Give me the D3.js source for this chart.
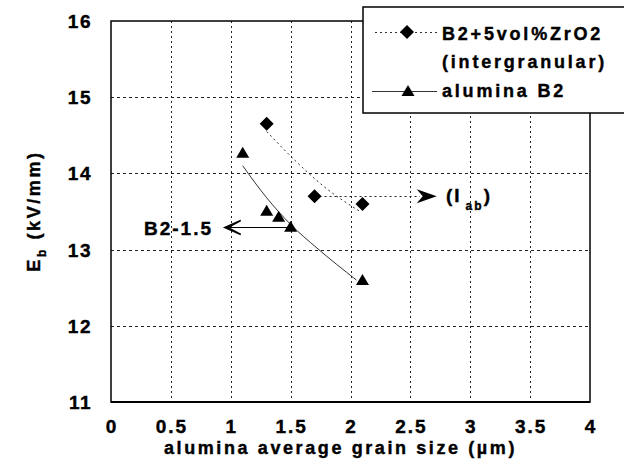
<!DOCTYPE html>
<meta charset="utf-8">
<head>
    <title>Eb vs alumina grain size</title>
    <script type="text/javascript" src="https://d3js.org/d3.v7.min.js"></script>
    <style type="text/css">
        body { margin: 0; background: #fff; }
        text { font-family: "Liberation Sans", Arial, sans-serif; font-weight: bold; fill: #000;
               stroke: #000; stroke-width: 0.4px; }
    </style>
</head>
<body>
    <div id="chart"></div>
    <script>
        // data
        var zrGrain = [1.3, 1.7, 2.1];
        var zrEb = [14.65, 13.7, 13.6];
        var b2Grain = [1.1, 1.3, 1.4, 1.5, 2.1];
        var b2Eb = [14.27, 13.51, 13.43, 13.3, 12.6];
        // trend curves (as drawn in the original)
        var zrTrendX = [1.3, 1.55, 1.8, 2.08];
        var zrTrendY = [14.55, 14.15, 13.8, 13.5];
        var b2TrendX = [1.1, 1.3, 1.5, 1.72, 2.05];
        var b2TrendY = [14.1, 13.68, 13.33, 13.02, 12.6];
        var xTicks = [0, 0.5, 1, 1.5, 2, 2.5, 3, 3.5, 4];
        var yTicks = [11, 12, 13, 14, 15, 16];
        var legendNames = ["B2+5vol%ZrO2", "(intergranular)", "alumina B2"];

        var width = 624, height = 461;
        var margin = {top: 21, right: 34, bottom: 59, left: 111};

        var svg = d3.select("#chart").append("svg")
            .attr("width", width)
            .attr("height", height);

        var x = d3.scaleLinear().domain([0, 4]).range([margin.left, width - margin.right]);
        var y = d3.scaleLinear().domain([11, 16]).range([height - margin.bottom, margin.top]);
        var px = v => Math.round(v) + 0.5;

        // grid
        svg.append("g").selectAll("line")
            .data(xTicks.slice(1, -1))
            .enter().append("line")
            .attr("x1", d => px(x(d))).attr("x2", d => px(x(d)))
            .attr("y1", y(16)).attr("y2", y(11))
            .attr("stroke", "#222").attr("stroke-width", 1)
            .attr("stroke-dasharray", "2,3");
        svg.append("g").selectAll("line")
            .data(yTicks.slice(1, -1))
            .enter().append("line")
            .attr("x1", x(0)).attr("x2", x(4))
            .attr("y1", d => px(y(d))).attr("y2", d => px(y(d)))
            .attr("stroke", "#222").attr("stroke-width", 1)
            .attr("stroke-dasharray", "3,3");

        // frame
        svg.append("rect")
            .attr("x", x(0)).attr("y", y(16))
            .attr("width", x(4) - x(0)).attr("height", y(11) - y(16))
            .attr("fill", "none").attr("stroke", "#000").attr("stroke-width", 1.5);
        svg.append("line")
            .attr("x1", x(0)).attr("x2", x(4))
            .attr("y1", y(11)).attr("y2", y(11))
            .attr("stroke", "#000").attr("stroke-width", 2);

        // tick labels
        svg.append("g").selectAll("text")
            .data(xTicks)
            .enter().append("text")
            .attr("x", d => x(d) + 1)
            .attr("y", y(11) + 31)
            .attr("text-anchor", "middle")
            .style("font-size", "19px")
            .style("letter-spacing", "2px")
            .text(d => d);
        svg.append("g").selectAll("text")
            .data(yTicks)
            .enter().append("text")
            .attr("x", 92)
            .attr("y", d => y(d) + 7)
            .attr("text-anchor", "end")
            .style("font-size", "19px")
            .style("letter-spacing", "1.5px")
            .text(d => d);

        // axis titles
        svg.append("text")
            .attr("x", (x(0) + x(4)) / 2 - 10)
            .attr("y", 454)
            .attr("text-anchor", "middle")
            .style("font-size", "18px")
            .style("letter-spacing", "2.6px")
            .text("alumina average grain size (\u00b5m)");

        var yt = svg.append("text")
            .attr("transform", "translate(40," + 211 + ") rotate(-90)")
            .attr("text-anchor", "middle")
            .style("font-size", "18px")
            .style("letter-spacing", "2.6px");
        yt.append("tspan").text("E");
        yt.append("tspan").attr("dy", 6).style("font-size", "12px").text("b");
        yt.append("tspan").attr("dy", -6).text(" (kV/mm)");

        // trend curves
        var line = d3.line().curve(d3.curveMonotoneX).x(d => x(d[0])).y(d => y(d[1]));
        svg.append("path")
            .datum(d3.zip(zrTrendX, zrTrendY))
            .attr("d", line)
            .attr("fill", "none").attr("stroke", "#333").attr("stroke-width", 1)
            .attr("stroke-dasharray", "2,3");
        svg.append("path")
            .datum(d3.zip(b2TrendX, b2TrendY))
            .attr("d", line)
            .attr("fill", "none").attr("stroke", "#333").attr("stroke-width", 1);

        // annotation arrows
        svg.append("line")
            .attr("x1", x(1.5)).attr("x2", x(0.95))
            .attr("y1", y(13.29)).attr("y2", y(13.29))
            .attr("stroke", "#000").attr("stroke-width", 1.2);
        svg.append("path")
            .attr("transform", "translate(" + x(0.95) + "," + y(13.29) + ")")
            .attr("d", "M16,-7 L0,0 L16,7 L3,0 Z")
            .attr("fill", "#000").attr("stroke", "#000").attr("stroke-width", 1.5)
            .attr("stroke-linejoin", "miter");
        svg.append("text")
            .attr("x", 213).attr("y", y(13.29) + 7)
            .attr("text-anchor", "end")
            .style("font-size", "19px")
            .style("letter-spacing", "2px")
            .text("B2-1.5");

        svg.append("line")
            .attr("x1", x(1.7)).attr("x2", x(2.58))
            .attr("y1", px(y(13.7))).attr("y2", px(y(13.7)))
            .attr("stroke", "#222").attr("stroke-width", 1)
            .attr("stroke-dasharray", "2,3");
        svg.append("path")
            .attr("transform", "translate(" + x(2.72) + "," + y(13.7) + ")")
            .attr("d", "M0,0 L-20,-7 L-14,0 L-20,7 Z")
            .attr("fill", "#000");
        var iab = svg.append("text")
            .attr("x", 446).attr("y", y(13.7) + 6)
            .style("font-size", "19px")
            .style("letter-spacing", "2px");
        iab.append("tspan").text("(I");
        iab.append("tspan").attr("dy", 8).style("font-size", "12px").attr("dx", 4).text("ab");
        iab.append("tspan").attr("dy", -8).text(")");

        // markers
        var diamond = "M0,-7 L7,0 L0,7 L-7,0 Z";
        var triangle = "M0,-6 L6.5,5 L-6.5,5 Z";
        svg.append("g").selectAll("path")
            .data(d3.zip(zrGrain, zrEb))
            .enter().append("path")
            .attr("transform", d => "translate(" + x(d[0]) + "," + y(d[1]) + ")")
            .attr("d", diamond)
            .attr("fill", "#000");
        svg.append("g").selectAll("path")
            .data(d3.zip(b2Grain, b2Eb))
            .enter().append("path")
            .attr("transform", d => "translate(" + x(d[0]) + "," + y(d[1]) + ")")
            .attr("d", triangle)
            .attr("fill", "#000");

        // legend
        var lg = svg.append("g").attr("transform", "translate(363,7)");
        lg.append("rect")
            .attr("width", 300).attr("height", 106)
            .attr("fill", "#fff").attr("stroke", "#000").attr("stroke-width", 1.5);
        lg.append("line")
            .attr("x1", 12).attr("x2", 74).attr("y1", 25.5).attr("y2", 25.5)
            .attr("stroke", "#333").attr("stroke-dasharray", "2,3");
        lg.append("path")
            .attr("transform", "translate(44,25)")
            .attr("d", diamond).attr("fill", "#000");
        lg.append("line")
            .attr("x1", 9).attr("x2", 74).attr("y1", 84.5).attr("y2", 84.5)
            .attr("stroke", "#333");
        lg.append("path")
            .attr("transform", "translate(45,84)")
            .attr("d", triangle).attr("fill", "#000");
        lg.selectAll("text.lab")
            .data(legendNames)
            .enter().append("text")
            .attr("class", "lab")
            .attr("x", 79)
            .attr("y", (d, i) => [33, 61, 90][i])
            .style("font-size", "18px")
            .style("letter-spacing", "2.8px")
            .text(d => d);
    </script>
</body>
</html>
